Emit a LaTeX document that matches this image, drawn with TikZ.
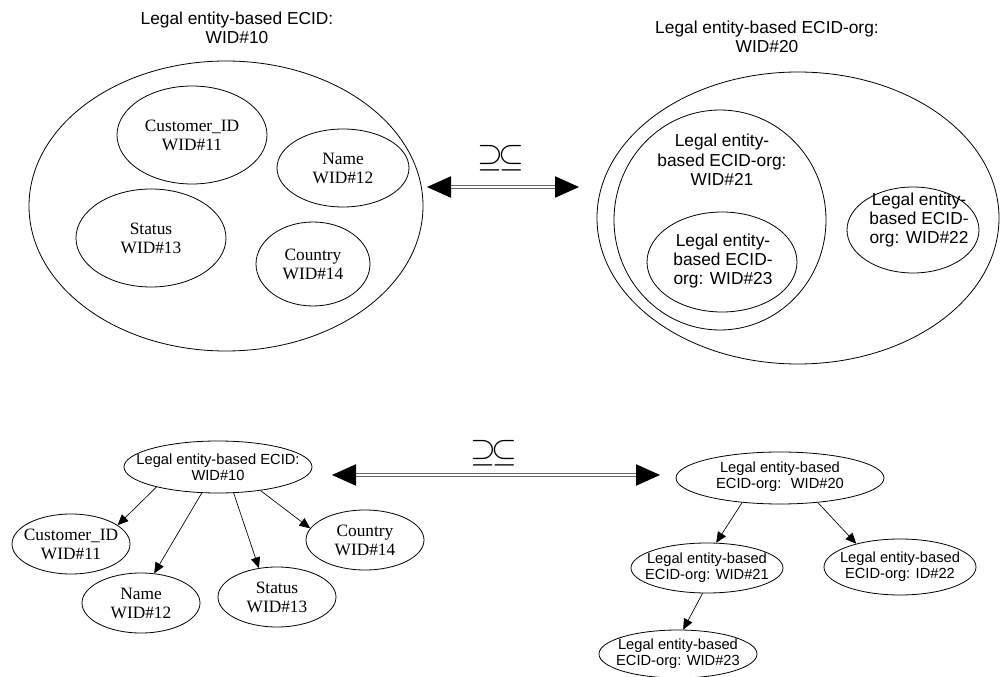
\documentclass[tikz,border=0pt]{standalone}
\usepackage{fontspec}
\setmainfont{Liberation Serif}
\setsansfont{Liberation Sans}
\usetikzlibrary{shapes.geometric,arrows.meta,positioning}

\begin{document}
\begin{tikzpicture}[x=0.75pt,y=-0.75pt,
                    every node/.style={inner sep=0pt},
                    ell/.style 2 args={draw, ellipse, line width=0.6pt, minimum width=#1*0.75pt, minimum height=#2*0.75pt},
                    big/.style={font=\sffamily\fontsize{13}{14.5}\selectfont, align=center},
                    small/.style={font=\sffamily\fontsize{11}{12}\selectfont, align=center},
                    attr/.style={font=\rmfamily\fontsize{13}{14.25}\selectfont, align=center},
                    sym/.style={font=\fontsize{24}{24}\selectfont},
                    edge/.style={-{Triangle[length=8pt,width=7pt]}, line width=0.5pt},
                    equiv/.style={{Triangle[length=18pt,width=16pt,black]}-{Triangle[length=18pt,width=16pt,black]}, double=white, double distance=1.2pt, line width=0.6pt, draw=black!60},
                    >=latex]
  \useasboundingbox (0,0) rectangle (1003,677);

  % nested view, ECID
  \node[ell={394}{290}] (ecid) at (226,206) {};
  \node[big] (ecidt) at (237,28) {Legal entity-based ECID:\\WID\#10};
  \node[ell={150}{98}] (cid) at (192,135) {};
  \node[attr] (cidt) at (cid) {Customer\_ID\\WID\#11};
  \node[ell={132}{78}] (name) at (343,168) {};
  \node[attr] (namet) at (name) {Name\\WID\#12};
  \node[ell={150}{98}] (stat) at (151,238) {};
  \node[attr] (statt) at (stat) {Status\\WID\#13};
  \node[ell={114}{84}] (ctry) at (313,264) {};
  \node[attr] (ctryt) at (ctry) {Country\\WID\#14};

  % nested view, ECID-org
  \node[ell={402}{292}] (org) at (798,218) {};
  \node[big] (orgt) at (767,37) {Legal entity-based ECID-org:\\WID\#20};
  \node[ell={212}{220}] (org21) at (720,220) {};
  \node[big] (org21t) at (722,160) {Legal entity-\\based ECID-org:\\WID\#21};
  \node[ell={150}{100}] (org23) at (722,262) {};
  \node[big] (org23t) at (723,261) {Legal entity-\\based ECID-\\org: WID\#23};
  \node[ell={132}{86}] (org22) at (913,230) {};
  \node[big] (org22t) at (919,220) {Legal entity-\\based ECID-\\org: WID\#22};

  \coordinate (eqa) at (427,187);
  \coordinate (eqb) at (579,187);
  \draw[equiv] (eqa) -- (eqb);
  \node[sym] (eqs) at (501,158) {$\supseteq\!\subseteq$};

  % tree view, ECID
  \node[ell={188}{52}] (r10) at (218,467) {};
  \node[small] (r10t) at (r10) {Legal entity-based ECID:\\WID\#10};
  \node[ell={118}{60}] (c11) at (71,544) {};
  \node[attr] (c11t) at (c11) {Customer\_ID\\WID\#11};
  \node[ell={118}{60}] (n12) at (141,603) {};
  \node[attr] (n12t) at (n12) {Name\\WID\#12};
  \node[ell={118}{60}] (s13) at (277,597) {};
  \node[attr] (s13t) at (s13) {Status\\WID\#13};
  \node[ell={118}{60}] (k14) at (365,540) {};
  \node[attr] (k14t) at (k14) {Country\\WID\#14};

  \draw[edge] (r10.198) -- (c11.22);
  \draw[edge] (r10.238) -- (n12.66);
  \draw[edge] (r10.301) -- (s13.122);
  \draw[edge] (r10.331) -- (k14.168);

  % tree view, ECID-org
  \node[ell={208}{52}] (r20) at (780,478) {};
  \node[small] (r20t) at (780,477) {Legal entity-based\\ECID-org:~ WID\#20};
  \node[ell={152}{50}] (r21) at (707,568) {};
  \node[small] (r21t) at (r21) {Legal entity-based\\ECID-org: WID\#21};
  \node[ell={152}{56}] (r22) at (900,567) {};
  \node[small] (r22t) at (r22) {Legal entity-based\\ECID-org: ID\#22};
  \node[ell={158}{48}] (r23) at (678,654) {};
  \node[small] (r23t) at (r23) {Legal entity-based\\ECID-org: WID\#23};

  \draw[edge] (r20.213) -- (r21.70);
  \draw[edge] (r20.327) -- (r22.152);
  \draw[edge] (r21.260) -- (r23.78);

  \coordinate (eqc) at (332,475);
  \coordinate (eqd) at (660,475);
  \draw[equiv] (eqc) -- (eqd);
  \node[sym] (eqt) at (494,453) {$\supseteq\!\subseteq$};
\end{tikzpicture}
\end{document}
